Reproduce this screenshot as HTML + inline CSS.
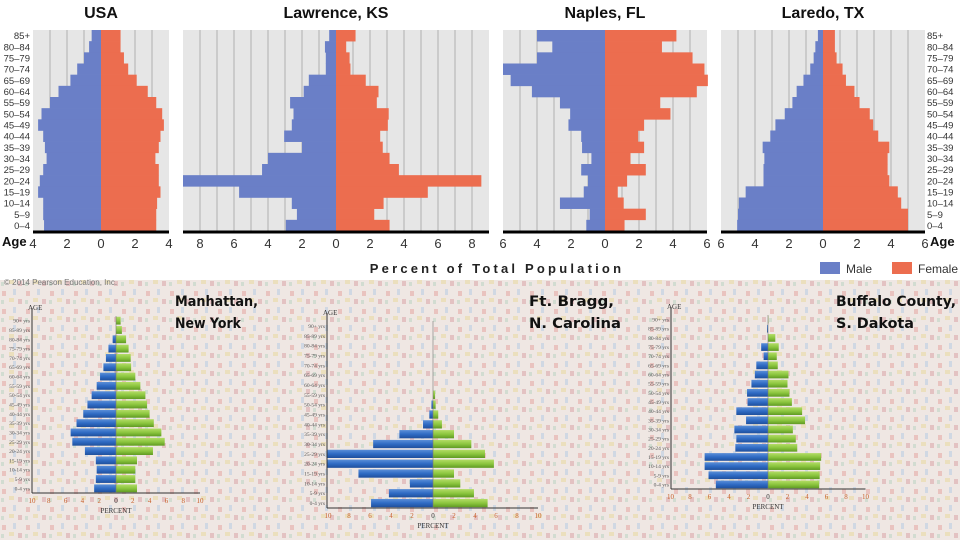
<!DOCTYPE html>
<html><head><meta charset="utf-8"><style>
html,body{margin:0;padding:0;width:960px;height:540px;overflow:hidden;background:#fff;font-family:"Liberation Sans",sans-serif}
svg{display:block}
</style></head><body>
<svg id="c" width="960" height="540" xmlns="http://www.w3.org/2000/svg">
<defs>
<pattern id="waldo" width="24" height="18" patternUnits="userSpaceOnUse">
<rect width="24" height="18" fill="#ede4df"/>
<rect x="2" y="3" width="4" height="5" fill="#e3a9a3"/>
<rect x="13" y="1" width="3" height="6" fill="#b9cbe0"/>
<rect x="9" y="10" width="5" height="4" fill="#e7d7a0"/>
<rect x="18" y="11" width="4" height="5" fill="#d9a7a9"/>
<rect x="1" y="12" width="3" height="4" fill="#bdd3c2"/>
</pattern>
<linearGradient id="gBlue" x1="0" y1="0" x2="0" y2="1"><stop offset="0" stop-color="#5b8fd8"/><stop offset="0.5" stop-color="#2f6bc4"/><stop offset="1" stop-color="#1f4f9c"/></linearGradient>
<linearGradient id="gGreen" x1="0" y1="0" x2="0" y2="1"><stop offset="0" stop-color="#b3dc66"/><stop offset="0.5" stop-color="#8cc63f"/><stop offset="1" stop-color="#5f9a22"/></linearGradient>
</defs>
<rect x="0" y="280" width="960" height="260" fill="url(#waldo)"/>
<rect x="0" y="280" width="960" height="260" fill="#f3ece8" opacity="0.4"/>
<text x="4" y="285" font-size="8" fill="#777">© 2014 Pearson Education, Inc.</text>
</svg>
<script>
// ---- Top charts data ----
const topAges = ["85+","80–84","75–79","70–74","65–69","60–64","55–59","50–54","45–49","40–44","35–39","30–34","25–29","20–24","15–19","10–14","5–9","0–4"];
const usaMale = [0.55,0.7,1.0,1.4,1.8,2.5,3.0,3.5,3.7,3.4,3.3,3.2,3.4,3.6,3.7,3.4,3.4,3.35];
const usaFemale = [1.15,1.15,1.35,1.6,2.1,2.75,3.25,3.6,3.7,3.5,3.4,3.2,3.4,3.4,3.5,3.3,3.25,3.25];
const lawMale = [0.4,0.65,0.6,0.6,1.6,1.9,2.7,2.5,2.6,3.05,2.0,4.0,4.35,9.0,5.7,2.6,2.3,2.95];
const lawFemale = [1.15,0.6,0.8,0.85,1.75,2.5,2.4,3.1,3.05,2.6,2.75,3.15,3.7,8.55,5.4,2.8,2.25,3.15];
const napMale = [4.0,3.1,4.0,6.0,5.55,4.3,2.65,2.05,2.15,1.4,1.35,0.8,1.4,1.0,1.25,2.65,0.9,1.1];
const napFemale = [4.2,3.35,5.15,5.85,6.05,5.4,3.25,3.85,2.3,1.95,2.3,1.5,2.4,1.3,0.75,1.1,2.4,1.15];
const larMale = [0.3,0.45,0.55,0.75,1.15,1.55,1.8,2.25,2.8,3.1,3.55,3.45,3.5,3.5,4.55,4.95,5.0,5.05];
const larFemale = [0.7,0.7,0.8,1.15,1.35,1.85,2.15,2.75,2.95,3.25,3.9,3.8,3.8,3.9,4.4,4.6,5.0,5.0];
const usaTicks = [-4,-2,0,2,4];
const lawTicks = [-8,-6,-4,-2,0,2,4,6,8];
const napTicks = [-6,-4,-2,0,2,4,6];
const larTicks = [-6,-4,-2,0,2,4,6];
// ---- Bottom charts data ----
const botAges = ["90+ yrs","85-89 yrs","80-84 yrs","75-79 yrs","70-74 yrs","65-69 yrs","60-64 yrs","55-59 yrs","50-54 yrs","45-49 yrs","40-44 yrs","35-39 yrs","30-34 yrs","25-29 yrs","20-24 yrs","15-19 yrs","10-14 yrs","5-9 yrs","0-4 yrs"];
const manMale = [0,0,0.4,0.9,1.2,1.5,1.9,2.3,2.9,3.4,3.9,4.7,5.4,5.2,3.7,2.4,2.3,2.4,2.6];
const manFemale = [0.55,0.7,1.2,1.5,1.75,1.8,2.3,2.9,3.5,3.7,4.0,4.5,5.4,5.8,4.4,2.5,2.3,2.3,2.5];
const braMale = [0,0,0,0,0,0,0,0,0.15,0.35,0.95,3.2,5.7,10.5,10.5,7.1,2.2,4.2,5.9];
const braFemale = [0,0,0,0,0,0,0,0.2,0.25,0.5,0.85,2.0,3.65,4.95,5.8,2.0,2.6,3.9,5.2];
const bufMale = [0,0.1,0,0.7,0.45,1.2,1.35,1.7,2.15,2.1,3.25,2.25,3.45,3.25,3.35,6.5,6.5,6.1,5.35];
const bufFemale = [0.05,0,0.75,1.1,0.9,1.0,2.1,2.0,2.2,2.45,3.5,3.8,2.55,2.85,3.0,5.45,5.35,5.3,5.25];
const botTicks = [-10,-8,-6,-4,-2,0,2,4,6,8,10];

const NS="http://www.w3.org/2000/svg";
const svg=document.getElementById('c');
function mk(tag,attrs,parent,txt){const e=document.createElementNS(NS,tag);for(const k in attrs)e.setAttribute(k,attrs[k]);if(txt!==undefined)e.textContent=txt;(parent||svg).appendChild(e);return e;}

function topChart(name,title,male,female,ticks,zero,scale,range,leftLabels,rightLabels){
  const g=mk('g',{});
  
  
  const top=30,bot=231,n=topAges.length,rh=(bot-top)/n;
  const xs=v=>zero+v*scale;
  const ys=i=>top+i*rh;
  const bg=mk('rect',{x:xs(-range),y:top,width:xs(range)-xs(-range),height:bot-top,fill:'#e6e6e6'},g);
  
  
  for(let v=-range+1;v<range;v++){if(v===0)continue;
    const l=mk('line',{x1:xs(v),x2:xs(v),y1:top,y2:bot,stroke:'#b0b0b0','stroke-width':1},g);
    
    }
  for(let i=0;i<n;i++){
    const m=mk('rect',{x:xs(-male[i]),y:ys(i),width:male[i]*scale,height:rh+0.3,fill:'#6a7fc7'},g);
    
    
    const f=mk('rect',{x:xs(0),y:ys(i),width:female[i]*scale,height:rh+0.3,fill:'#ec6d4f'},g);
    
    
  }
  const ax=mk('line',{x1:xs(-range),x2:xs(range),y1:bot+1,y2:bot+1,stroke:'#000','stroke-width':3},g);
  
  
  ticks.forEach(t=>{const tx=mk('text',{x:xs(t),y:248,'font-size':13,fill:'#333','text-anchor':'middle'},g,String(Math.abs(t)));
    
    });
  const tt=mk('text',{x:xs(0),y:18,'font-size':16,'font-weight':'bold','text-anchor':'middle',fill:'#111'},g,title);
  
  
  if(leftLabels||rightLabels){
    topAges.forEach((a,i)=>{const t=mk('text',{x:leftLabels?30:927,y:ys(i)+rh/2+3.5,'font-size':9.5,fill:'#333','text-anchor':leftLabels?'end':'start'},g,a);
      
      });
    const at=mk('text',{x:leftLabels?2:930,y:246,'font-size':13,'font-weight':'bold',fill:'#111'},g,'Age');
    
    
  }
}
topChart('usa','USA',usaMale,usaFemale,usaTicks,101,17,4,true,false);
topChart('lawrence','Lawrence, KS',lawMale,lawFemale,lawTicks,336,17,9,false,false);
topChart('naples','Naples, FL',napMale,napFemale,napTicks,605,17,6,false,false);
topChart('laredo','Laredo, TX',larMale,larFemale,larTicks,823,17,6,false,true);

const xt=mk('text',{x:497,y:273,'font-size':13,'font-weight':'bold','letter-spacing':'3.2',fill:'#222','text-anchor':'middle'},svg,'Percent of Total Population');


const lm=mk('rect',{x:820,y:262,width:20,height:12,fill:'#6a7fc7'});


const lmt=mk('text',{x:846,y:273,'font-size':12,fill:'#333'},svg,'Male');


const lf=mk('rect',{x:892,y:262,width:20,height:12,fill:'#ec6d4f'});


const lft=mk('text',{x:918,y:273,'font-size':12,fill:'#333'},svg,'Female');



function botChart(name,l1,l2,tx,w1,w2,male,female,axisX,zero,scale,top,bot){
  const g=mk('g',{});
  
  
  const n=botAges.length,rh=(bot-top)/n;
  const xs=v=>zero+v*scale;
  const ys=i=>top+i*rh;
  const cp=mk('clipPath',{id:'clip-'+name},g);
  mk('rect',{x:axisX,y:top-5,width:xs(10)-axisX+5,height:bot-top+10},cp);
  const bars=mk('g',{'clip-path':'url(#clip-'+name+')'},g);
  for(let i=0;i<n;i++){
    if(male[i]>0){const m=mk('rect',{x:xs(-male[i]),y:ys(i)+rh*0.08,width:male[i]*scale,height:rh*0.84,fill:'url(#gBlue)'},bars);
      
      }
    if(female[i]>0){const f=mk('rect',{x:xs(0),y:ys(i)+rh*0.08,width:female[i]*scale,height:rh*0.84,fill:'url(#gGreen)'},bars);
      
      }
    const al=mk('text',{x:axisX-2,y:ys(i)+rh/2+2,'font-size':5.5,fill:'#555','text-anchor':'end','font-family':'Liberation Serif, serif'},g,botAges[i]);
    
    
  }
  const ya=mk('line',{x1:axisX,x2:axisX,y1:top-8,y2:bot,stroke:'#333','stroke-width':1},g);
  
  
  const xa=mk('line',{x1:axisX,x2:xs(10),y1:bot,y2:bot,stroke:'#333','stroke-width':1},g);
  
  
  const z=mk('line',{x1:zero,x2:zero,y1:top,y2:bot,stroke:'#777','stroke-width':0.6},g);
  
  
  botTicks.forEach(t=>{const tt=mk('text',{x:xs(t),y:bot+10,'font-size':7,fill:t===0?'#333':'#c8602a','text-anchor':'middle','font-family':'Liberation Serif, serif'},g,String(Math.abs(t)));
    
    });
  const pt=mk('text',{x:zero,y:bot+20,'font-size':7,fill:'#333','text-anchor':'middle','font-family':'Liberation Serif, serif'},g,'PERCENT');
  
  
  const ag=mk('text',{x:axisX-4,y:top-6,'font-size':7,fill:'#333','font-family':'Liberation Serif, serif'},g,'AGE');
  
  
  const t1=mk('text',{x:tx,y:306,'font-size':14,'font-weight':'bold',fill:'#111','font-family':'DejaVu Sans, sans-serif',textLength:w1,lengthAdjust:'spacingAndGlyphs'},g,l1);
  
  
  const t2=mk('text',{x:tx,y:328,'font-size':14,'font-weight':'bold',fill:'#111','font-family':'DejaVu Sans, sans-serif',textLength:w2,lengthAdjust:'spacingAndGlyphs'},g,l2);
  
  
}
botChart('manhattan','Manhattan,','New York',175,83,66,manMale,manFemale,32,116,8.4,316,493);
botChart('ft-bragg','Ft. Bragg,','N. Carolina',529,85,92,braMale,braFemale,327,433,10.5,321,508);
botChart('buffalo-county','Buffalo County,','S. Dakota',836,120,78,bufMale,bufFemale,671,768,9.75,315,489);
</script>
</body></html>
